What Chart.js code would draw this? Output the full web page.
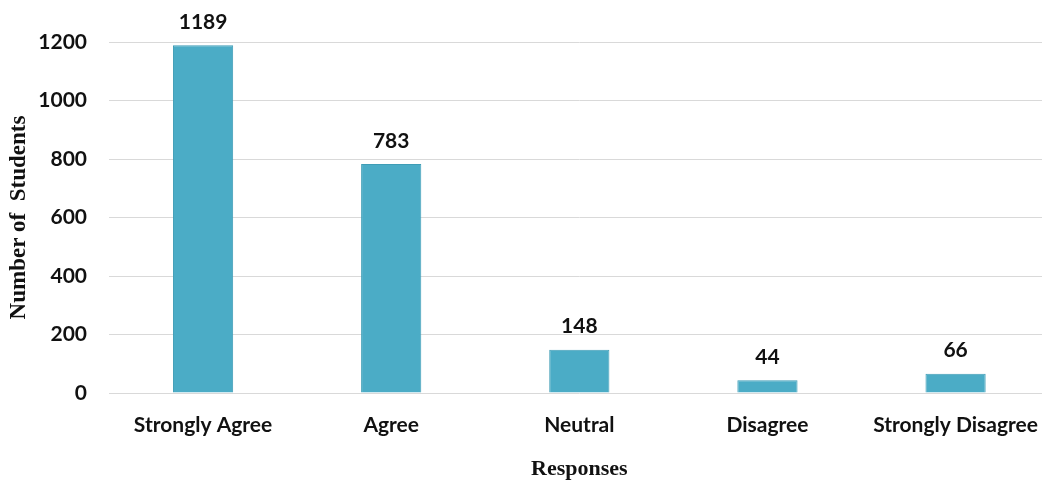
<!DOCTYPE html>
<html>
<head>
<meta charset="utf-8">
<script src="https://cdn.jsdelivr.net/npm/chart.js@4.4.0/dist/chart.umd.min.js"></script>
<style>
    body { margin: 0; background: #fff; }
    #frame { width: 1042px; height: 486px; overflow: hidden; position: relative; }
    #wrap { width: 1050px; height: 486px; position: absolute; left: 0; top: 0; }
</style>
</head>
<body>
<div id="frame"><div id="wrap"><canvas id="responsesChart"></canvas></div></div>
<script>
// Chart data
const categories = ['Strongly Agree', 'Agree', 'Neutral', 'Disagree', 'Strongly Disagree'];
const studentCounts = [1189, 783, 148, 44, 66];
const yTicks = [0, 200, 400, 600, 800, 1000, 1200];

const sansBold = { family: "Lato, sans-serif", size: 21, weight: 'bold' };
const serifBold = { family: "'Liberation Serif', 'Times New Roman', serif", size: 22, weight: 'bold' };

// Value labels drawn above each bar
const barLabels = {
    id: 'barLabels',
    afterDatasetsDraw(chart) {
        const ctx = chart.ctx;
        const meta = chart.getDatasetMeta(0);
        ctx.save();
        ctx.font = `bold ${sansBold.size}px ${sansBold.family}`;
        ctx.fillStyle = '#111';
        ctx.textAlign = 'center';
        ctx.textBaseline = 'middle';
        meta.data.forEach((bar, i) => {
            ctx.fillText(String(studentCounts[i]), bar.x, bar.y - 23);
        });
        ctx.restore();
    }
};

new Chart(document.getElementById('responsesChart'), {
    type: 'bar',
    data: {
        labels: categories,
        datasets: [{
            data: studentCounts,
            backgroundColor: '#4bacc6',
            borderColor: '#3f9db6',
            borderWidth: 1,
            barPercentage: 0.64,
            categoryPercentage: 0.5
        }]
    },
    options: {
        responsive: true,
        maintainAspectRatio: false,
        animation: false,
        layout: { padding: { top: 42, right: 0, bottom: 3, left: 0 } },
        plugins: {
            legend: { display: false },
            tooltip: { enabled: false }
        },
        scales: {
            x: {
                grid: { display: false },
                border: { display: false },
                ticks: { color: '#111', font: sansBold, padding: 12, maxRotation: 0 },
                title: {
                    display: true,
                    text: 'Responses',
                    color: '#111',
                    font: serifBold,
                    padding: { top: 20, bottom: 0 }
                },
                afterFit(scale) { scale.height = 90; }
            },
            y: {
                min: 0,
                max: 1200,
                afterBuildTicks(scale) { scale.ticks = yTicks.map(v => ({ value: v })); },
                grid: { color: '#d9d9d9', drawTicks: false },
                border: { display: false },
                ticks: {
                    color: '#111',
                    font: sansBold,
                    padding: 22,
                    callback: (value) => String(value)
                },
                title: {
                    display: true,
                    text: 'Number of  Students',
                    color: '#111',
                    font: { ...serifBold, size: 23 },
                    padding: { top: 5, bottom: 0 }
                },
                afterFit(scale) { scale.width = 109; }
            }
        }
    },
    plugins: [barLabels]
});
</script>
</body>
</html>
